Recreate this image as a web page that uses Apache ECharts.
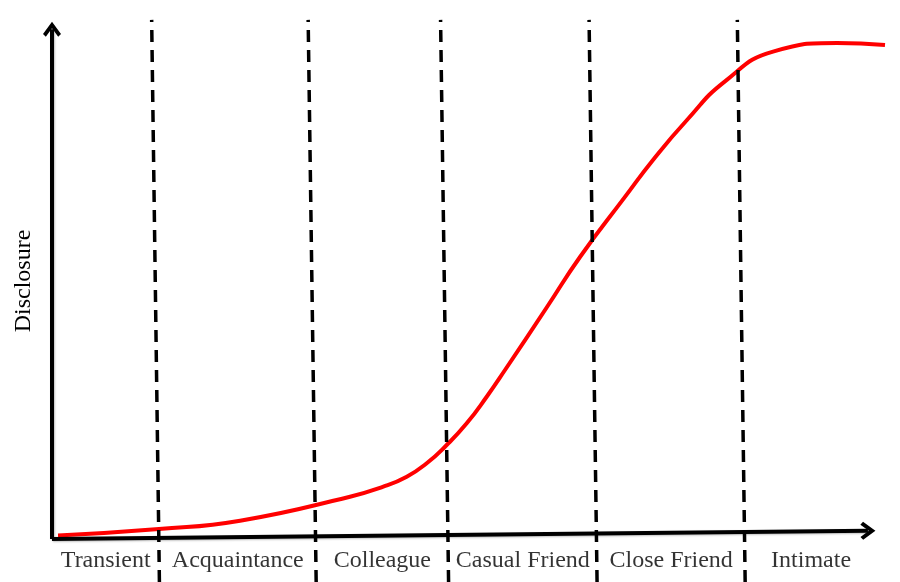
<!DOCTYPE html>
<html>
<head>
<meta charset="utf-8">
<script src="https://cdn.jsdelivr.net/npm/echarts@6/dist/echarts.min.js"></script>
<style>
  html, body { margin: 0; padding: 0; background: #fff; }
  #chart { width: 900px; height: 582px; }
</style>
</head>
<body>
<div id="chart"></div>
<script>
// relationship stages along the x axis
const stages = ['Transient', 'Acquaintance', 'Colleague', 'Casual Friend', 'Close Friend', 'Intimate']

// dashed stage boundaries (x at bottom / x at top, they lean a little)
const boundBottom = [13.02, 32.02, 48.07, 66.07, 84.02]
const boundTop = [12.08, 31.05, 47.10, 65.10, 83.07]
const boundLow = -8.5
const boundHigh = 100.4

// disclosure curve
const discX = [0.73, 12.97, 22.8, 36.12, 40.16, 43.0, 45.42, 47.84, 50.27, 52.69, 54.91, 60.0, 64.0, 69.45, 72.85, 76.97, 81.5, 87.5, 95.15, 100.97]
const discY = [0.48, 1.74, 3.35, 8.0, 9.94, 11.88, 14.48, 18.02, 22.23, 27.38, 32.56, 44.77, 54.46, 66.1, 73.26, 81.0, 88.4, 94.3, 95.93, 95.54]

// axis arrows (start / end in data units, the x axis tilts slightly)
const xAxisLine = [[0, -0.2], [98.9, 1.4]]
const yAxisLine = [[0, -0.2], [0, 98.6]]

const serif = "'Liberation Serif', 'DejaVu Serif', serif"
const chevron = 'path://M9,0 L18,12 L15.2,14.6 L9,6.4 L2.8,14.6 L0,12 Z'

let chart = echarts.init(document.getElementById('chart'))

// label sits in the middle of each stage
const edges = [0].concat(boundBottom, [100])
const labelData = stages.map((s, i) => ({
  name: s,
  value: [(edges[i] + edges[i + 1]) / 2, -4.3]
}))

const boundLines = boundBottom.map((b, i) => [
  {coord: [b, boundLow]},
  {coord: [boundTop[i], boundHigh]}
])

const axisLines = [xAxisLine, yAxisLine].map(l => [
  {coord: l[0], symbol: 'none'},
  {coord: l[1], symbol: chevron}
])

let option = {
  animation: false,
  grid: {
    left: 52,
    right: 6.5,
    top: 16.8,
    bottom: 0.1
  },
  xAxis: {
    type: 'value',
    min: 0,
    max: 102,
    show: false
  },
  yAxis: {
    type: 'value',
    min: -8.5,
    max: 101,
    show: false
  },
  graphic: [{
    type: 'text',
    x: 24,
    y: 281,
    rotation: Math.PI / 2,
    style: {
      text: 'Disclosure',
      font: '24px ' + serif,
      fill: '#000',
      align: 'center',
      verticalAlign: 'middle'
    }
  }],
  series: [
    {
      name: 'boundaries',
      type: 'line',
      data: [],
      silent: true,
      markLine: {
        silent: true,
        symbol: ['none', 'none'],
        label: {show: false},
        lineStyle: {
          color: '#000',
          width: 3.5,
          type: [12, 8]
        },
        data: boundLines
      }
    },
    {
      name: 'Disclosure',
      type: 'line',
      data: discX.map((x, i) => [x, discY[i]]),
      smooth: 0.5,
      symbol: 'none',
      clip: false,
      lineStyle: {
        color: '#ff0000',
        width: 4
      }
    },
    {
      name: 'axes',
      type: 'line',
      data: [],
      silent: true,
      markLine: {
        silent: true,
        symbolSize: [18, 15],
        label: {show: false},
        itemStyle: {color: '#000'},
        lineStyle: {
          color: '#000',
          width: 4,
          type: 'solid',
          shadowColor: 'rgba(0,0,0,0.25)',
          shadowBlur: 2,
          shadowOffsetX: 1,
          shadowOffsetY: 1
        },
        data: axisLines
      }
    },
    {
      name: 'stages',
      type: 'scatter',
      data: labelData,
      symbolSize: 1,
      silent: true,
      itemStyle: {color: 'transparent'},
      label: {
        show: true,
        position: 'inside',
        formatter: '{b}',
        color: '#000',
        fontSize: 24,
        fontFamily: serif
      }
    }
  ]
}

chart.setOption(option)
</script>
</body>
</html>
